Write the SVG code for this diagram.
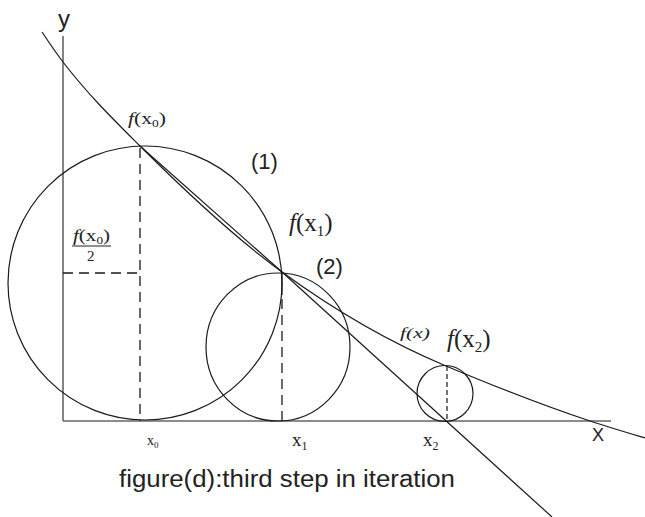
<svg xmlns="http://www.w3.org/2000/svg" width="645" height="517" viewBox="0 0 645 517">
<style>
.ax{stroke:#666;stroke-width:1.6;fill:none}
.ln{stroke:#1a1a1a;stroke-width:1.2;fill:none}
.cr{stroke:#1a1a1a;stroke-width:1.2;fill:none}
.ds{stroke:#1a1a1a;stroke-width:1.3;fill:none;stroke-dasharray:10 6}
.ds2{stroke:#1a1a1a;stroke-width:1.2;fill:none;stroke-dasharray:5 3}
.sans{font-family:"Liberation Sans",Arial,sans-serif;fill:#222}
.serif{font-family:"Liberation Serif","Times New Roman",serif;fill:#222}
</style>
<rect width="645" height="517" fill="#fff"/>
<g id="axes">
<line class="ax" x1="63" y1="36" x2="63" y2="421"/>
<line class="ax" x1="63" y1="421" x2="611" y2="421"/>
</g>
<g id="circle1"><circle class="cr" cx="145" cy="283" r="137"/></g>
<g id="circle2"><ellipse class="cr" cx="278" cy="347" rx="72" ry="74"/></g>
<g id="circle3"><circle class="cr" cx="445" cy="393.5" r="28"/></g>
<g id="connectors">
<path class="ln" d="M42,32 C49,42.5 56,52.9 63,62 C88.67,95.37 114.33,120.33 140,146 C187.33,193.33 234.67,237.45 282,272 C336.67,311.9 391.33,343.04 446,366 C494,386.16 542,405.16 590,421 C608.33,427.05 626.67,432.5 645,438"/>
<line class="ln" x1="140" y1="146" x2="282" y2="272"/>
<line class="ln" x1="282" y1="272" x2="552" y2="517"/>
<line class="ds" x1="140" y1="148" x2="140" y2="421"/>
<line class="ds" x1="63" y1="273" x2="140" y2="273" stroke-dasharray="8 7"/>
<line class="ln" x1="282" y1="272" x2="282" y2="295" stroke-width="1.6"/>
<line class="ds" x1="282" y1="299" x2="282" y2="421"/>
<line class="ds2" x1="447" y1="366" x2="447" y2="421"/>
</g>
<g id="labels">
<text class="sans" x="58" y="27" font-size="24">y</text>
<text class="sans" x="592" y="441" font-size="18">X</text>
<text class="sans" x="251" y="169" font-size="22">(1)</text>
<text class="sans" x="316" y="274" font-size="22">(2)</text>
<text class="serif" x="128" y="124" font-size="16" textLength="38" lengthAdjust="spacingAndGlyphs"><tspan font-style="italic">f</tspan>(x<tspan font-size="10" dy="3">0</tspan><tspan dy="-3">)</tspan></text>
<text class="serif" x="73" y="241" font-size="16" textLength="37" lengthAdjust="spacingAndGlyphs"><tspan font-style="italic">f</tspan>(x<tspan font-size="10" dy="3">0</tspan><tspan dy="-3">)</tspan></text>
<line x1="72" y1="246" x2="111" y2="246" stroke="#222" stroke-width="1.2"/>
<text class="serif" x="87" y="261" font-size="15">2</text>
<text class="serif" x="289" y="231" font-size="25"><tspan font-style="italic">f</tspan>(x<tspan font-size="15" dy="5">1</tspan><tspan dy="-5">)</tspan></text>
<text class="serif" x="447" y="347" font-size="25"><tspan font-style="italic">f</tspan>(x<tspan font-size="15" dy="5">2</tspan><tspan dy="-5">)</tspan></text>
<text class="serif" x="400" y="338" font-size="15" textLength="30" lengthAdjust="spacingAndGlyphs" font-style="italic">f(x)</text>
<text class="serif" x="147" y="445" font-size="14">x<tspan font-size="9" dy="3">0</tspan></text>
<text class="serif" x="292" y="446" font-size="19">x<tspan font-size="12" dy="4">1</tspan></text>
<text class="serif" x="423" y="446" font-size="19">x<tspan font-size="12" dy="4">2</tspan></text>
<text class="sans" x="119" y="487" font-size="23" textLength="336" lengthAdjust="spacingAndGlyphs">figure(d):third step in iteration</text>
</g>
</svg>
